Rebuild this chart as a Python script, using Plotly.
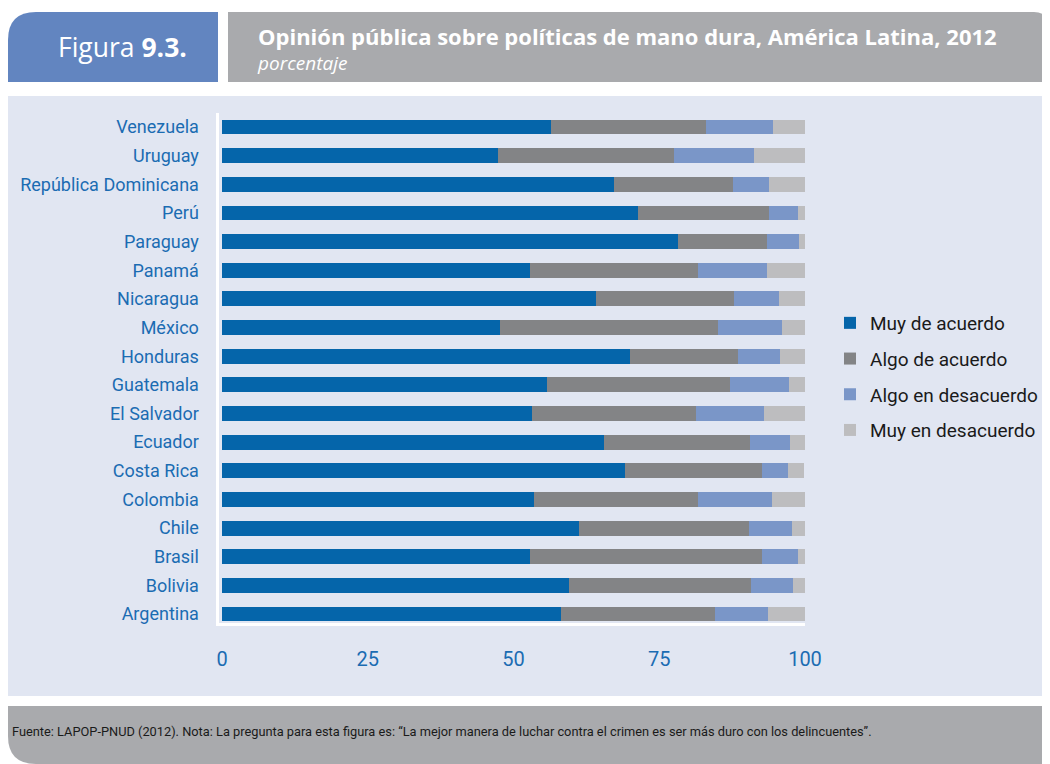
import plotly.graph_objects as go

# page is drawn with an 8px body margin, so the figure is 8px smaller each way
W, H = 1042, 756
OFF = 8

# countries, top to bottom as in the figure
countries = ["Venezuela", "Uruguay", "República Dominicana", "Perú", "Paraguay",
             "Panamá", "Nicaragua", "México", "Honduras", "Guatemala",
             "El Salvador", "Ecuador", "Costa Rica", "Colombia", "Chile",
             "Brasil", "Bolivia", "Argentina"]

muy_acuerdo = [56.5, 47.4, 67.2, 71.3, 78.2, 52.9, 64.2, 47.7, 70.0, 55.8,
               53.1, 65.6, 69.2, 53.5, 61.3, 52.9, 59.6, 58.1]
algo_acuerdo = [26.5, 30.2, 20.4, 22.5, 15.3, 28.7, 23.7, 37.3, 18.5, 31.3,
                28.2, 24.9, 23.5, 28.1, 29.1, 39.7, 31.2, 26.5]
algo_desacuerdo = [11.5, 13.6, 6.2, 5.0, 5.5, 11.9, 7.6, 11.1, 7.2, 10.1,
                   11.7, 6.9, 4.3, 12.8, 7.4, 6.2, 7.1, 9.1]
muy_desacuerdo = [5.5, 8.8, 6.2, 1.2, 1.0, 6.5, 4.5, 3.9, 4.3, 2.8,
                  7.0, 2.6, 2.9, 5.6, 2.2, 1.2, 2.1, 6.3]

series = [
    ("Muy de acuerdo", muy_acuerdo, "#0565aa"),
    ("Algo de acuerdo", algo_acuerdo, "#838486"),
    ("Algo en desacuerdo", algo_desacuerdo, "#7a96c8"),
    ("Muy en desacuerdo", muy_desacuerdo, "#bdbdbf"),
]

x_ticks = [0, 25, 50, 75, 100]

COND = "Roboto, Liberation Sans, sans-serif"
BLUE_TXT = "#1b6cb2"


def px(x):
    return (x - OFF) / W


def py(y):
    return 1 - (y - OFF) / H


def rect_path(x0, y0, x1, y1, r_tl=0, r_tr=0, r_bl=0, r_br=0):
    # rounded rectangle in paper coords, pixel inputs
    p = []
    p.append(f"M {px(x0 + r_tl)},{py(y0)}")
    p.append(f"L {px(x1 - r_tr)},{py(y0)}")
    if r_tr:
        p.append(f"Q {px(x1)},{py(y0)} {px(x1)},{py(y0 + r_tr)}")
    p.append(f"L {px(x1)},{py(y1 - r_br)}")
    if r_br:
        p.append(f"Q {px(x1)},{py(y1)} {px(x1 - r_br)},{py(y1)}")
    p.append(f"L {px(x0 + r_bl)},{py(y1)}")
    if r_bl:
        p.append(f"Q {px(x0)},{py(y1)} {px(x0)},{py(y1 - r_bl)}")
    p.append(f"L {px(x0)},{py(y0 + r_tl)}")
    if r_tl:
        p.append(f"Q {px(x0)},{py(y0)} {px(x0 + r_tl)},{py(y0)}")
    p.append("Z")
    return " ".join(p)


fig = go.Figure()

for i, (name, vals, col) in enumerate(series):
    fig.add_trace(go.Bar(
        y=countries,
        x=vals,
        name=name,
        orientation='h',
        marker=dict(color=col, line=dict(width=0)),
        legendgroup=f"g{i}",
    ))

shapes = [
    # header tab
    dict(type="path", path=rect_path(8, 12, 218, 82, r_tl=28), xref="paper", yref="paper",
         fillcolor="#6285c0", line=dict(width=0), layer="below"),
    dict(type="path", path=rect_path(228, 12, 1048, 82, r_tr=14), xref="paper", yref="paper",
         fillcolor="#a9aaad", line=dict(width=0), layer="below"),
    # main panel
    dict(type="rect", x0=px(8), x1=px(1050), y0=py(696), y1=py(96), xref="paper", yref="paper",
         fillcolor="#e1e6f2", line=dict(width=0), layer="below"),
    # footer
    dict(type="path", path=rect_path(8, 706, 1050, 764, r_bl=28), xref="paper", yref="paper",
         fillcolor="#a9aaad", line=dict(width=0), layer="below"),
]

annotations = [
    dict(text="Figura <b>9.3.</b>", x=px(56), y=py(47), xref="paper", yref="paper",
         xanchor="left", yanchor="middle", showarrow=False,
         font=dict(family="Open Sans, sans-serif", size=26.5, color="white")),
    # title + subtitle in one block
    dict(text="<span style='font-size:22px'><b>Opinión pública sobre políticas de mano dura, "
              "América Latina, 2012</b></span><br><i>porcentaje</i>",
         x=px(255), y=py(48), xref="paper", yref="paper", xanchor="left", yanchor="middle",
         align="left", showarrow=False,
         font=dict(family="Open Sans, sans-serif", size=19, color="white")),
    dict(text="Fuente: LAPOP-PNUD (2012). Nota: La pregunta para esta figura es: "
              "“La mejor manera de luchar contra el crimen es ser más duro con los delincuentes”.",
         x=px(10), y=py(731), xref="paper", yref="paper", xanchor="left", yanchor="middle",
         showarrow=False, font=dict(family=COND, size=12.8, color="#1a1a1a")),
]

fig.update_layout(
    width=W, height=H,
    margin=dict(l=0, r=0, t=0, b=0),
    paper_bgcolor="white",
    plot_bgcolor="rgba(0,0,0,0)",
    barmode="stack",
    bargap=0.48,
    showlegend=True,
    legend=dict(x=px(830), y=py(304), xanchor="left", yanchor="top",
                traceorder="grouped", tracegroupgap=8,
                bgcolor="rgba(0,0,0,0)",
                font=dict(family=COND, size=19, color="#1a1a1a")),
    xaxis=dict(domain=[px(218.5), px(805)], range=[-0.6, 100], tickvals=x_ticks,
               showgrid=False, zeroline=False, showline=True, linecolor="white",
               linewidth=3, ticks="", ticklabelstandoff=16, automargin=False,
               tickfont=dict(family=COND, size=20, color=BLUE_TXT)),
    yaxis=dict(domain=[py(622.6), py(112.7)], range=[-0.3, 17.5],
               categoryorder="array", categoryarray=countries[::-1],
               showgrid=False, zeroline=False, showline=True, linecolor="white",
               linewidth=3, ticks="", ticklabelstandoff=13, automargin=False,
               tickfont=dict(family=COND, size=18, color=BLUE_TXT)),
    shapes=shapes,
    annotations=annotations,
)

fig.write_html("out.html")
